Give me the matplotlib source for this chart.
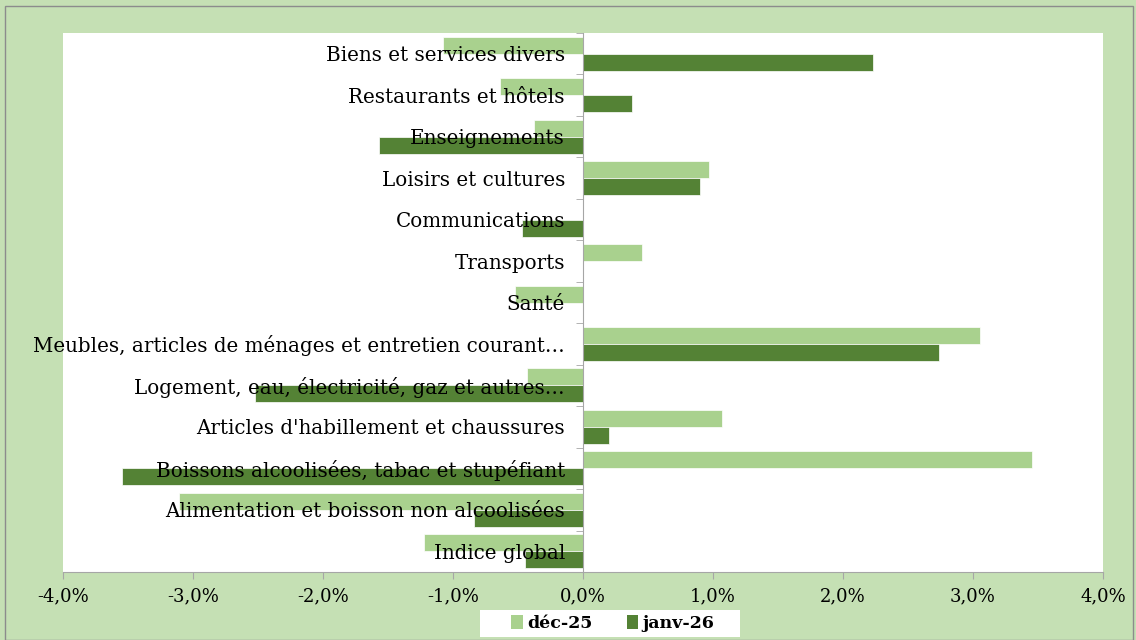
import numpy as np
import matplotlib.pyplot as plt
from matplotlib.patches import Rectangle

categories = [
    "Indice global",
    "Alimentation et boisson non alcoolisées",
    "Boissons alcoolisées, tabac et stupéfiant",
    "Articles d'habillement et chaussures",
    "Logement, eau, électricité, gaz et autres…",
    "Meubles, articles de ménages et entretien courant…",
    "Santé",
    "Transports",
    "Communications",
    "Loisirs et cultures",
    "Enseignements",
    "Restaurants et hôtels",
    "Biens et services divers",
]
dec25 = [-1.22, -3.11, 3.45, 1.07, -0.43, 3.05, -0.52, 0.45, 0.0, 0.97, -0.38, -0.64, -1.08]
janv26 = [-0.45, -0.84, -3.55, 0.20, -2.52, 2.74, 0.0, 0.0, -0.47, 0.90, -1.57, 0.38, 2.23]
xticks = [-4, -3, -2, -1, 0, 1, 2, 3, 4]

bg = '#c5e0b4'
light = '#a9d18e'
dark = '#548235'
grey = '#a6a6a6'

plt.rcParams['font.family'] = ['DejaVu Serif']

fig = plt.figure(figsize=(11.36, 6.4), dpi=100, facecolor=bg)
fig.patches.append(Rectangle((5/1136, 0), 1128/1136, 634/640, transform=fig.transFigure,
                             fill=False, edgecolor='#8c8c8c', lw=1))
# white box behind the legend
fig.patches.append(Rectangle((480/1136, 3/640), 260/1136, 27/640, transform=fig.transFigure,
                             facecolor='white', edgecolor='none'))
ax = fig.add_axes([63/1136, 68/640, 1040/1136, 539/640])
ax.set_facecolor('white')

# y axis sits at x = 0 (set before tick styling, it resets the ticks)
ax.spines['left'].set_position(('data', 0))
ax.spines['left'].set_color(grey)
ax.spines['bottom'].set_color(grey)
ax.spines['top'].set_visible(False)
ax.spines['right'].set_visible(False)

y = np.arange(len(categories))
h = 0.41
ax.barh(y + h/2, dec25, height=h, color=light, edgecolor='white', lw=0.5, label='déc-25')
ax.barh(y - h/2, janv26, height=h, color=dark, edgecolor='white', lw=0.5, label='janv-26')

ax.set_xlim(-4, 4)
ax.set_ylim(-0.5, len(categories) - 0.5)
ax.set_xticks(xticks)
ax.set_xticklabels([f"{v:.1f}%".replace('.', ',') for v in xticks])
ax.set_yticks(y)
ax.set_yticklabels(categories)
ax.set_yticks(np.arange(len(categories) + 1) - 0.5, minor=True)
ax.tick_params(axis='y', which='major', length=0, pad=13, labelsize=14.3)
ax.tick_params(axis='y', which='minor', length=5, color=grey)
ax.tick_params(axis='x', length=5, color=grey, pad=6, labelsize=13)

leg = fig.legend(loc='center', bbox_to_anchor=(613/1136, 16.5/640), ncol=2, frameon=False,
                 prop={'weight': 'bold', 'size': 12.5}, handlelength=0.65, handleheight=0.8,
                 handletextpad=0.25, columnspacing=2.0, borderpad=0, borderaxespad=0)
for patch in leg.get_patches():
    patch.set_edgecolor('none')

fig.savefig('out.png', dpi=100, facecolor=bg)
